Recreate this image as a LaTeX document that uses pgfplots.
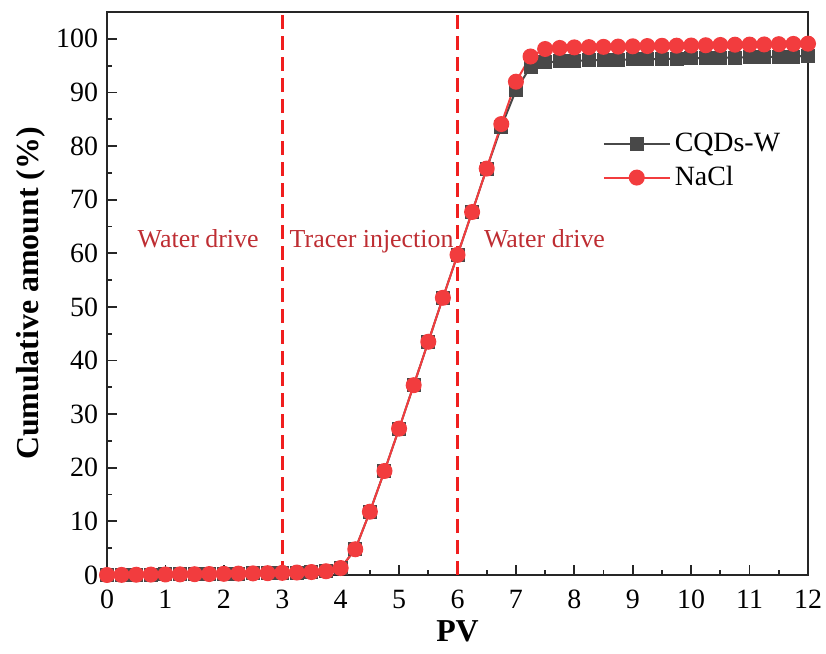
\documentclass[border=0pt]{standalone}
\usepackage{fontspec}
\setmainfont{Liberation Serif}
\usepackage{pgfplots}
\pgfplotsset{compat=1.18}
\definecolor{cqd}{RGB}{72,72,72}
\definecolor{nacl}{RGB}{242,60,62}
\definecolor{vline}{RGB}{240,30,30}
\definecolor{anno}{RGB}{190,45,50}
\begin{document}
\begin{tikzpicture}
\begin{axis}[
  scale only axis,
  width=350.5bp, height=281.5bp,
  xmin=0, xmax=12, ymin=0, ymax=105,
  xtick={0,1,...,12}, ytick={0,10,...,100},
  minor x tick num=1, minor y tick num=1,
  xtick pos=lower, ytick pos=left,
  tick align=inside,
  major tick length=5bp, minor tick length=2.5bp,
  axis line style={line width=1bp, black!85},
  every tick/.style={line width=0.9bp, black!85},
  tick label style={font=\fontsize{14}{16}\selectfont},
  xticklabel style={yshift=-4bp},
  yticklabel style={xshift=-1bp},
  /pgf/number format/assume math mode=true,
  xlabel={\textbf{PV}}, ylabel={\textbf{Cumulative amount (\%)}},
  label style={font=\fontsize{16}{18}\selectfont},
  xlabel style={yshift=1bp},
  ylabel style={yshift=-1.5bp},
  clip=false,
  legend style={at={(rel axis cs:0.975,0.80)}, anchor=north east, draw=none, fill=none,
    font=\fontsize{14}{17}\selectfont, row sep=2bp},
  legend cell align=left,
  legend image code/.code={\draw[mark repeat=2,mark phase=2] plot coordinates {(0bp,0bp)(16.5bp,0bp)(33bp,0bp)};},
]
\addplot[color=cqd, line width=1bp, mark=square*, mark size=3bp, mark options={fill=cqd, draw=cqd}] coordinates {
(0,0)(0.25,0.02)(0.5,0.05)(0.75,0.08)(1,0.1)(1.25,0.12)(1.5,0.15)(1.75,0.18)(2,0.22)(2.25,0.26)(2.5,0.3)(2.75,0.34)(3,0.4)(3.25,0.46)(3.5,0.55)(3.75,0.7)
(4,1.3)(4.25,4.8)(4.5,11.8)(4.75,19.4)(5,27.3)(5.25,35.4)(5.5,43.5)(5.75,51.7)(6,59.7)(6.25,67.7)(6.5,75.8)(6.75,83.6)
(7,90.4)(7.25,94.8)(7.5,95.6)(7.75,95.8)(8,95.9)(8.25,96.0)(8.5,96.05)(8.75,96.1)(9,96.15)(9.25,96.2)(9.5,96.25)(9.75,96.3)(10,96.35)(10.25,96.4)(10.5,96.45)(10.75,96.5)(11,96.55)(11.25,96.6)(11.5,96.65)(11.75,96.7)(12,96.8)
};
\addlegendentry{CQDs-W}
\addplot[color=nacl, line width=1bp, mark=*, mark size=3.5bp, mark options={fill=nacl, draw=nacl}] coordinates {
(0,0)(0.25,0.02)(0.5,0.05)(0.75,0.08)(1,0.1)(1.25,0.12)(1.5,0.15)(1.75,0.18)(2,0.22)(2.25,0.26)(2.5,0.3)(2.75,0.34)(3,0.4)(3.25,0.46)(3.5,0.55)(3.75,0.7)
(4,1.3)(4.25,4.8)(4.5,11.8)(4.75,19.4)(5,27.3)(5.25,35.4)(5.5,43.5)(5.75,51.7)(6,59.7)(6.25,67.7)(6.5,75.8)(6.75,84.1)
(7,92.0)(7.25,96.7)(7.5,98.1)(7.75,98.3)(8,98.4)(8.25,98.45)(8.5,98.5)(8.75,98.55)(9,98.6)(9.25,98.65)(9.5,98.7)(9.75,98.72)(10,98.75)(10.25,98.8)(10.5,98.85)(10.75,98.9)(11,98.92)(11.25,98.95)(11.5,99.0)(11.75,99.05)(12,99.1)
};
\addlegendentry{NaCl}
\draw[vline, line width=1.5bp, dash pattern=on 7bp off 3.5bp] (axis cs:3,0) -- (axis cs:3,104.5);
\draw[vline, line width=1.5bp, dash pattern=on 7bp off 3.5bp] (axis cs:6,0) -- (axis cs:6,104.5);
\node[anno, font=\fontsize{13}{15}\selectfont, anchor=base] at (axis cs:1.56,61) {Water drive};
\node[anno, font=\fontsize{13}{15}\selectfont, anchor=base] at (axis cs:4.53,61) {Tracer injection};
\node[anno, font=\fontsize{13}{15}\selectfont, anchor=base] at (axis cs:7.49,61) {Water drive};
\end{axis}
\pgfresetboundingbox
\path (current axis.south west)+(-53.5bp,-39.5bp) coordinate (bl);
\path (current axis.north east)+(9bp,6bp) coordinate (tr);
\path[use as bounding box] (bl) rectangle (tr);
\end{tikzpicture}
\end{document}
